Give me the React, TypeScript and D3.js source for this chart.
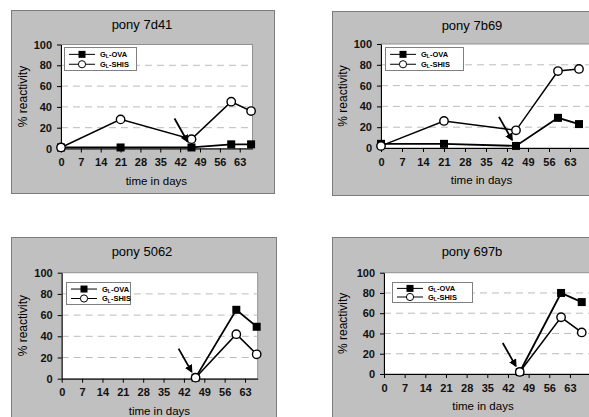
import React, { useEffect, useRef } from 'react';
import * as d3 from 'd3';

const dayTicks = [0, 7, 14, 21, 28, 35, 42, 49, 56, 63];
const pctTicks = [0, 20, 40, 60, 80, 100];

// pony 7d41
const days7d41 = [0, 21, 46, 60, 67];
const ova7d41 = [1, 1, 1, 4, 4];
const shis7d41 = [1, 28, 9, 45, 36];

// pony 7b69
const days7b69 = [0, 21, 45, 59, 66];
const ova7b69 = [4, 4, 2, 29, 23];
const shis7b69 = [2, 26, 17, 74, 76];

// pony 5062
const days5062 = [46, 60, 67];
const ova5062 = [1, 65, 49];
const shis5062 = [1, 42, 23];

// pony 697b
const days697b = [46, 60, 67];
const ova697b = [2, 80, 71];
const shis697b = [2, 56, 41];

// day of the boost the arrow points at
const boostDays = [46, 45, 46, 46];

const FONT = '"Liberation Sans", Arial, sans-serif';

const panels = [
  { title: 'pony 7d41', days: days7d41, ova: ova7d41, shis: shis7d41,
    box: [11, 10, 274, 193], plot: [61, 44.5, 252.5, 148.5], xMax: 67.5,
    titleX: 142, yLabelX: 27, legend: [64, 47, 72, 23] },
  { title: 'pony 7b69', days: days7b69, ova: ova7b69, shis: shis7b69,
    box: [332, 11, 600, 195], plot: [381, 44, 590, 148], xMax: 69.67,
    titleX: 472, yLabelX: 347, legend: [385, 47, 78, 23] },
  { title: 'pony 5062', days: days5062, ova: ova5062, shis: shis5062,
    box: [11, 237, 276, 430], plot: [61.7, 272.7, 257.7, 378.7], xMax: 67.35,
    titleX: 142, yLabelX: 27, legend: [66, 282, 64, 22] },
  { title: 'pony 697b', days: days697b, ova: ova697b, shis: shis697b,
    box: [332, 237, 600, 430], plot: [384, 272.7, 590, 374], xMax: 69.8,
    titleX: 472, yLabelX: 347, legend: [392, 282, 80, 20] },
];

export default function App() {
  const ref = useRef<SVGSVGElement>(null);

  useEffect(() => {
    const svg = d3.select(ref.current);
    svg.selectAll('*').remove();

    svg.append('defs')
      .append('marker')
      .attr('id', 'arrowHead')
      .attr('viewBox', '0 0 10 10')
      .attr('refX', 8).attr('refY', 5)
      .attr('markerWidth', 8).attr('markerHeight', 8)
      .attr('markerUnits', 'userSpaceOnUse')
      .attr('orient', 'auto')
      .append('path')
      .attr('d', 'M0,0L10,5L0,10z')
      .attr('fill', '#000');

    panels.forEach((p, i) => {
      const g = svg.append('g').attr('font-family', FONT);

      // grey chart area
      g.append('rect')
        .attr('x', p.box[0] + 0.5).attr('y', p.box[1] + 0.5)
        .attr('width', p.box[2] - p.box[0]).attr('height', p.box[3] - p.box[1])
        .attr('fill', '#c0c0c0').attr('stroke', '#7c7c7c');

      const x = d3.scaleLinear().domain([0, p.xMax]).range([p.plot[0], p.plot[2]]);
      const y = d3.scaleLinear().domain([0, 100]).range([p.plot[3], p.plot[1]]);

      // plot area
      g.append('rect')
        .attr('x', x(0)).attr('y', y(100))
        .attr('width', x(p.xMax) - x(0)).attr('height', y(0) - y(100))
        .attr('fill', '#fff').attr('stroke', '#909090');

      g.selectAll('.grid')
        .data(pctTicks.filter(t => t > 0 && t < 100))
        .enter().append('line')
        .attr('x1', x(0)).attr('x2', x(p.xMax))
        .attr('y1', d => y(d)).attr('y2', d => y(d))
        .attr('stroke', '#bcbcbc').attr('stroke-dasharray', '7,5');

      // axes
      const xAxisG = g.append('g')
        .attr('transform', 'translate(0,' + y(0) + ')')
        .call(d3.axisBottom(x).tickValues(dayTicks).tickSize(4).tickSizeOuter(0).tickPadding(6));
      const yAxisG = g.append('g')
        .attr('transform', 'translate(' + x(0) + ',0)')
        .call(d3.axisLeft(y).tickValues(pctTicks).tickSize(4).tickSizeOuter(0).tickPadding(5));

      [xAxisG, yAxisG].forEach(a => {
        a.attr('font-family', FONT).attr('font-size', 11).attr('font-weight', 'bold');
        a.selectAll('text').style('fill', '#111');
        a.selectAll('line').style('stroke', '#000');
        a.select('.domain').style('stroke', '#000');
      });

      // title and axis labels
      g.append('text')
        .attr('x', p.titleX).attr('y', p.box[1] + 19)
        .attr('text-anchor', 'middle').attr('font-size', 13)
        .text(p.title);
      g.append('text')
        .attr('x', (x(0) + x(63)) / 2 + 6).attr('y', y(0) + 36)
        .attr('text-anchor', 'middle').attr('font-size', 11.5)
        .text('time in days');
      g.append('text')
        .attr('transform', 'translate(' + p.yLabelX + ',' + (y(50)) + ') rotate(-90)')
        .attr('text-anchor', 'middle').attr('font-size', 12)
        .text('% reactivity');

      const ovaPts = p.days.map((d, k) => [d, p.ova[k]] as [number, number]);
      const shisPts = p.days.map((d, k) => [d, p.shis[k]] as [number, number]);
      const line = d3.line<[number, number]>().x(d => x(d[0])).y(d => y(d[1]));

      g.append('path').attr('d', line(ovaPts))
        .attr('fill', 'none').attr('stroke', '#000').attr('stroke-width', 1.8);
      g.append('path').attr('d', line(shisPts))
        .attr('fill', 'none').attr('stroke', '#000').attr('stroke-width', 1.5);

      g.selectAll('.sq')
        .data(ovaPts)
        .enter().append('rect')
        .attr('x', d => x(d[0]) - 4).attr('y', d => y(d[1]) - 4)
        .attr('width', 8).attr('height', 8)
        .attr('fill', '#000');

      g.selectAll('.ci')
        .data(shisPts)
        .enter().append('circle')
        .attr('cx', d => x(d[0])).attr('cy', d => y(d[1]))
        .attr('r', 4.2)
        .attr('fill', '#fff').attr('stroke', '#000').attr('stroke-width', 1.4);

      // boost arrow
      const bd = boostDays[i];
      const bv = p.ova[p.days.indexOf(bd)];
      g.append('line')
        .attr('x1', x(bd) - 17).attr('y1', y(bv) - 29)
        .attr('x2', x(bd) - 4).attr('y2', y(bv) - 6)
        .attr('stroke', '#000').attr('stroke-width', 1.8)
        .attr('marker-end', 'url(#arrowHead)');

      // legend
      const [lx, ly, lw, lh] = p.legend;
      const lg = g.append('g');
      lg.append('rect')
        .attr('x', lx + 0.5).attr('y', ly + 0.5).attr('width', lw).attr('height', lh)
        .attr('fill', '#fff').attr('stroke', '#808080');
      ['OVA', 'SHIS'].forEach((name, k) => {
        const cy = ly + lh * (k === 0 ? 0.32 : 0.75);
        lg.append('line')
          .attr('x1', lx + 5).attr('x2', lx + 31).attr('y1', cy).attr('y2', cy)
          .attr('stroke', '#000').attr('stroke-width', 1);
        if (k === 0) {
          lg.append('rect').attr('x', lx + 14.5).attr('y', cy - 3.5).attr('width', 7).attr('height', 7).attr('fill', '#000');
        } else {
          lg.append('circle').attr('cx', lx + 18).attr('cy', cy).attr('r', 3.6)
            .attr('fill', '#fff').attr('stroke', '#000');
        }
        const t = lg.append('text')
          .attr('x', lx + 36).attr('y', cy + 2.5)
          .attr('font-size', 7.5).attr('font-weight', 'bold');
        t.append('tspan').text('G');
        t.append('tspan').attr('font-size', 5).attr('dy', 1.5).text('L');
        t.append('tspan').attr('dy', -1.5).text('-' + name);
      });
    });

    return () => {
      svg.selectAll('*').remove();
    };
  }, []);

  return (
    <svg ref={ref} width={589} height={417}
      style={{ position: 'absolute', left: 0, top: 0, background: '#fff' }} />
  );
}
